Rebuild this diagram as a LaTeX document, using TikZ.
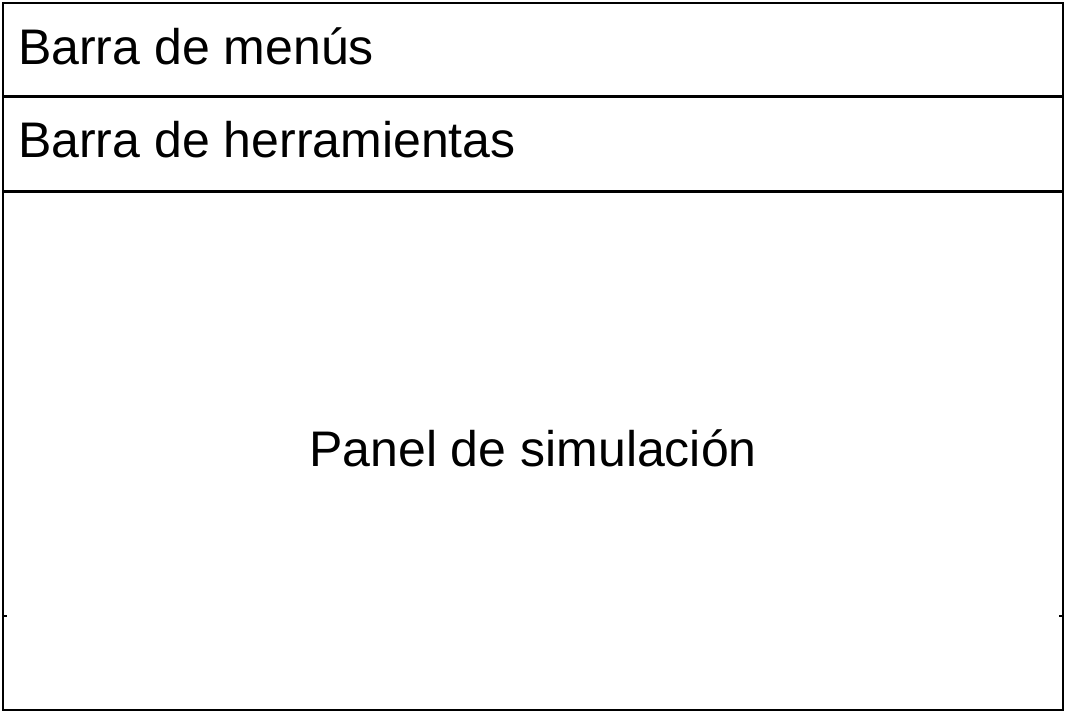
\documentclass[tikz,border=0pt]{standalone}
\usepackage{fontspec}
\setmainfont{Liberation Sans}
\begin{document}
\begin{tikzpicture}[x=1pt,y=-1pt,
  frame/.style={draw=black,line width=2.5pt},
  label/.style={inner sep=0pt,font=\fontsize{50}{60}\selectfont}]
\useasboundingbox[fill=white] (0,0) rectangle (1066,713);
\draw[frame] (3,3) rectangle (1063,710);
\coordinate (m1l) at (3,96.5);
\coordinate (m1r) at (1063,96.5);
\coordinate (m2l) at (3,191);
\coordinate (m2r) at (1063,191);
\draw[frame] (m1l) -- (m1r);
\draw[frame,line width=3pt] (m2l) -- (m2r);
\coordinate (tl) at (3,616);
\coordinate (tl2) at (7,616);
\coordinate (tr) at (1063,616);
\coordinate (tr2) at (1059,616);
\draw[frame] (tl) -- (tl2);
\draw[frame] (tr) -- (tr2);
\node[label,anchor=base west] (menus) at (18,64) {Barra de menús};
\node[label,anchor=base west] (herr) at (18,157) {Barra de herramientas};
\node[label,anchor=base] (panel) at (533,466) {Panel de simulación};
\end{tikzpicture}
\end{document}
